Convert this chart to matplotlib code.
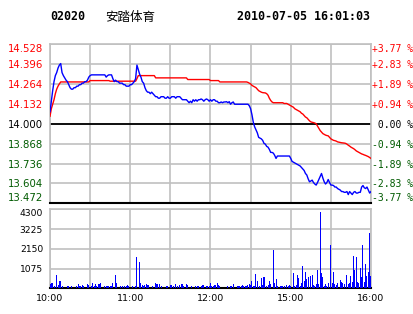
import matplotlib
matplotlib.use("Agg")
import matplotlib.pyplot as plt
import numpy as np

# ---- data (one value per minute, 10:00-12:30 + 14:30-16:00) ----
prev_close = 14.000

price = [
    14.08, 14.15, 14.22, 14.28, 14.32, 14.34, 14.37, 14.39, 14.40, 14.34,
    14.32, 14.305, 14.29, 14.28, 14.26, 14.24, 14.23, 14.23, 14.24, 14.24,
    14.25, 14.25, 14.26, 14.26, 14.27, 14.27, 14.28, 14.28, 14.29, 14.31,
    14.32, 14.325, 14.325, 14.325, 14.325, 14.325, 14.325, 14.325, 14.325, 14.325,
    14.325, 14.325, 14.31, 14.32, 14.325, 14.325, 14.325, 14.30, 14.28, 14.29,
    14.28, 14.28, 14.27, 14.27, 14.27, 14.26, 14.26, 14.25, 14.25, 14.25,
    14.26, 14.26, 14.27, 14.28, 14.30, 14.39, 14.36, 14.33, 14.31, 14.28,
    14.27, 14.24, 14.22, 14.21, 14.21, 14.20, 14.21, 14.20, 14.19, 14.18,
    14.18, 14.17, 14.17, 14.18, 14.18, 14.18, 14.17, 14.17, 14.18, 14.17,
    14.17, 14.18, 14.18, 14.18, 14.17, 14.18, 14.18, 14.18, 14.17, 14.16,
    14.16, 14.16, 14.16, 14.15, 14.14, 14.15, 14.14, 14.16, 14.15, 14.16,
    14.15, 14.16, 14.16, 14.165, 14.16, 14.15, 14.16, 14.165, 14.16, 14.15,
    14.16, 14.15, 14.16, 14.16, 14.15, 14.15, 14.14, 14.14, 14.145, 14.14,
    14.145, 14.145, 14.147, 14.14, 14.147, 14.13, 14.14, 14.145, 14.13, 14.13,
    14.13, 14.13, 14.13, 14.13, 14.13, 14.13, 14.13, 14.13, 14.13, 14.12,
    14.10, 14.06, 14.01, 13.98, 13.96, 13.94, 13.91, 13.905, 13.90, 13.89,
    13.87, 13.865, 13.85, 13.845, 13.83, 13.81, 13.81, 13.805, 13.79, 13.77,
    13.786, 13.786, 13.786, 13.786, 13.786, 13.786, 13.786, 13.786, 13.786, 13.786,
    13.77, 13.75, 13.745, 13.74, 13.735, 13.73, 13.725, 13.72, 13.71, 13.70,
    13.69, 13.67, 13.66, 13.635, 13.615, 13.62, 13.626, 13.61, 13.60, 13.593,
    13.61, 13.63, 13.65, 13.67, 13.64, 13.615, 13.60, 13.61, 13.63, 13.61,
    13.593, 13.593, 13.59, 13.58, 13.58, 13.57, 13.565, 13.56, 13.55, 13.55,
    13.545, 13.545, 13.55, 13.53, 13.55, 13.54, 13.53, 13.545, 13.55, 13.54,
    13.54, 13.545, 13.545, 13.58, 13.59, 13.575, 13.57, 13.58, 13.56, 13.54,
    13.55,
]

avg_price = [
    14.05, 14.10, 14.13, 14.16, 14.20, 14.23, 14.25, 14.265, 14.278, 14.278,
    14.278, 14.278, 14.278, 14.278, 14.278, 14.278, 14.278, 14.278, 14.278, 14.278,
    14.278, 14.278, 14.278, 14.278, 14.278, 14.278, 14.278, 14.278, 14.278, 14.278,
    14.287, 14.287, 14.287, 14.287, 14.287, 14.287, 14.287, 14.287, 14.287, 14.287,
    14.287, 14.287, 14.287, 14.287, 14.287, 14.283, 14.283, 14.283, 14.283, 14.283,
    14.283, 14.283, 14.283, 14.283, 14.283, 14.283, 14.283, 14.283, 14.283, 14.283,
    14.283, 14.283, 14.283, 14.283, 14.283, 14.30, 14.32, 14.32, 14.32, 14.32,
    14.32, 14.32, 14.32, 14.32, 14.32, 14.32, 14.32, 14.32, 14.32, 14.305,
    14.305, 14.305, 14.305, 14.305, 14.305, 14.305, 14.305, 14.305, 14.305, 14.305,
    14.305, 14.305, 14.305, 14.305, 14.305, 14.305, 14.305, 14.305, 14.305, 14.305,
    14.305, 14.305, 14.305, 14.294, 14.294, 14.294, 14.294, 14.294, 14.294, 14.294,
    14.294, 14.294, 14.294, 14.294, 14.294, 14.294, 14.294, 14.294, 14.294, 14.294,
    14.287, 14.287, 14.287, 14.287, 14.287, 14.287, 14.287, 14.278, 14.278, 14.278,
    14.278, 14.278, 14.278, 14.278, 14.278, 14.278, 14.278, 14.278, 14.278, 14.278,
    14.278, 14.278, 14.278, 14.278, 14.278, 14.278, 14.278, 14.278, 14.275, 14.27,
    14.265, 14.255, 14.25, 14.245, 14.24, 14.23, 14.22, 14.215, 14.21, 14.207,
    14.206, 14.205, 14.20, 14.19, 14.17, 14.155, 14.145, 14.14, 14.14, 14.14,
    14.14, 14.14, 14.14, 14.14, 14.14, 14.135, 14.135, 14.135, 14.13, 14.125,
    14.12, 14.115, 14.11, 14.10, 14.095, 14.09, 14.085, 14.08, 14.07, 14.065,
    14.055, 14.045, 14.04, 14.03, 14.02, 14.013, 14.01, 14.008, 14.005, 14.0,
    13.985, 13.97, 13.955, 13.945, 13.935, 13.93, 13.925, 13.922, 13.92, 13.91,
    13.90, 13.895, 13.89, 13.888, 13.885, 13.88, 13.878, 13.876, 13.874, 13.873,
    13.872, 13.87, 13.865, 13.858, 13.852, 13.845, 13.84, 13.835, 13.828, 13.82,
    13.815, 13.81, 13.805, 13.80, 13.797, 13.793, 13.79, 13.786, 13.782, 13.776,
    13.77,
]

volume = [
    220, 270, 270, 110, 0, 725, 200, 400, 400, 145,
    0, 0, 0, 145, 145, 0, 145, 0, 0, 0,
    110, 220, 145, 145, 180, 145, 0, 0, 220, 180,
    0, 145, 290, 145, 220, 145, 220, 220, 290, 0,
    0, 110, 145, 145, 145, 145, 145, 290, 0, 725,
    290, 0, 0, 110, 110, 0, 110, 110, 180, 110,
    0, 0, 110, 0, 110, 1720, 0, 1450, 290, 180,
    145, 180, 255, 180, 180, 0, 0, 110, 0, 290,
    220, 0, 220, 110, 0, 0, 0, 145, 145, 0,
    180, 180, 110, 0, 220, 110, 0, 180, 220, 255,
    145, 0, 220, 180, 0, 0, 110, 0, 0, 110,
    110, 110, 0, 145, 180, 180, 0, 110, 110, 110,
    290, 145, 145, 180, 180, 290, 180, 110, 0, 0,
    0, 0, 0, 110, 0, 110, 145, 255, 0, 0,
    145, 145, 145, 145, 180, 145, 145, 145, 180, 255,
    180, 400, 145, 145, 800, 400, 0, 145, 580, 180,
    615, 0, 145, 180, 400, 255, 0, 2080, 290, 500,
    145, 0, 110, 110, 110, 110, 0, 180, 145, 180,
    145, 0, 830, 145, 180, 725, 540, 145, 290, 1200,
    400, 870, 500, 615, 0, 690, 725, 180, 145, 255,
    1015, 255, 4160, 830, 615, 145, 255, 145, 290, 0,
    2350, 290, 870, 255, 180, 290, 0, 435, 360, 290,
    255, 0, 725, 255, 290, 650, 360, 1740, 1015, 1700,
    360, 290, 1085, 615, 2350, 360, 1300, 650, 870, 2990,
    650,
]

price_ticks = [13.472, 13.604, 13.736, 13.868, 14.000, 14.132, 14.264, 14.396, 14.528]
vol_ticks = [1075, 2150, 3225, 4300]
time_labels = ["10:00", "", "11:00", "", "12:00", "", "15:00", "", "16:00"]

code = "02020"
name = "安踏体育"
stamp = "2010-07-05 16:01:03"

GRID = "#c0c0c0"
RED = "#ff0000"
GREEN = "#005a00"

minutes = np.arange(len(price))


def colour_for(diff):
    if diff > 1e-6:
        return RED
    if diff < -1e-6:
        return GREEN
    return "black"


fig = plt.figure(figsize=(4.14, 3.14), dpi=100)
fig.patch.set_facecolor("white")

# ---- price panel ----
ax = fig.add_axes([50 / 414, 1 - 203.3 / 314, 321 / 414, 159 / 314])
ax.set_xlim(0, 240)
ax.set_ylim(price_ticks[0], price_ticks[-1])
ax.set_xticks(range(0, 241, 30))
ax.set_xticklabels([])
ax.set_yticks(price_ticks)
ax.set_yticklabels([f"{t:.3f}" for t in price_ticks], fontsize=7.3)
ax.tick_params(length=0, pad=5)
ax.grid(True, color=GRID, lw=1.2)
ax.set_axisbelow(True)
ax.axhline(prev_close, color="black", lw=1.3, zorder=2)
for s in ["top", "left", "right"]:
    ax.spines[s].set_color(GRID)
    ax.spines[s].set_linewidth(1.2)
ax.spines["bottom"].set_color("black")
ax.spines["bottom"].set_linewidth(1.5)

ax.plot(minutes, avg_price, color=RED, lw=1.0, zorder=3)
ax.plot(minutes, price, color="#0000ff", lw=1.0, zorder=4)

axr = ax.twinx()
axr.set_ylim(ax.get_ylim())
axr.set_yticks(price_ticks)
pct = [(t - prev_close) / prev_close * 100 for t in price_ticks]
axr.set_yticklabels([("+" if p > 0.001 else ("-" if p < -0.001 else " ")) + f"{abs(p):.2f} %" for p in pct],
                    fontsize=7.0, family="DejaVu Sans Mono")
axr.tick_params(length=0, pad=0.5)
for s in axr.spines.values():
    s.set_visible(False)

# colours and end-label alignment like the original
for labels, diffs in [(ax.get_yticklabels(), [t - prev_close for t in price_ticks]),
                      (axr.get_yticklabels(), pct)]:
    for lbl, d in zip(labels, diffs):
        lbl.set_color(colour_for(d))
    labels[0].set_va("bottom")
    labels[-1].set_va("top")

# ---- volume panel ----
axv = fig.add_axes([50 / 414, 1 - 288.3 / 314, 321 / 414, 79 / 314])
axv.set_xlim(0, 240)
axv.set_ylim(0, 4300)
axv.bar(minutes, volume, width=0.75, color="#0000ff", lw=0, antialiased=False, zorder=3)
axv.set_xticks(range(0, 241, 30))
axv.set_xticklabels(time_labels, fontsize=6.8)
axv.set_yticks(vol_ticks)
axv.set_yticklabels([str(v) for v in vol_ticks], fontsize=6.6)
axv.get_yticklabels()[-1].set_va("top")
axv.tick_params(length=0, pad=5)
axv.tick_params(axis="x", pad=4)
axv.grid(True, color=GRID, lw=1.2)
axv.set_axisbelow(True)
for s in ["top", "left", "right"]:
    axv.spines[s].set_color(GRID)
    axv.spines[s].set_linewidth(1.2)
axv.spines["bottom"].set_color("black")
axv.spines["bottom"].set_linewidth(1.5)

# ---- header ----
fig.text(50 / 414, 1 - 17 / 314, code, fontsize=8.4, fontweight="bold",
         family="DejaVu Sans Mono", va="center", ha="left")
fig.text(105 / 414, 1 - 17 / 314, name, fontsize=9, family=["Noto Sans CJK SC", "DejaVu Sans"],
         va="center", ha="left")
fig.text(370 / 414, 1 - 17 / 314, stamp, fontsize=8.4, fontweight="bold",
         family="DejaVu Sans Mono", va="center", ha="right")

fig.savefig("out.png", dpi=100, facecolor="white")
